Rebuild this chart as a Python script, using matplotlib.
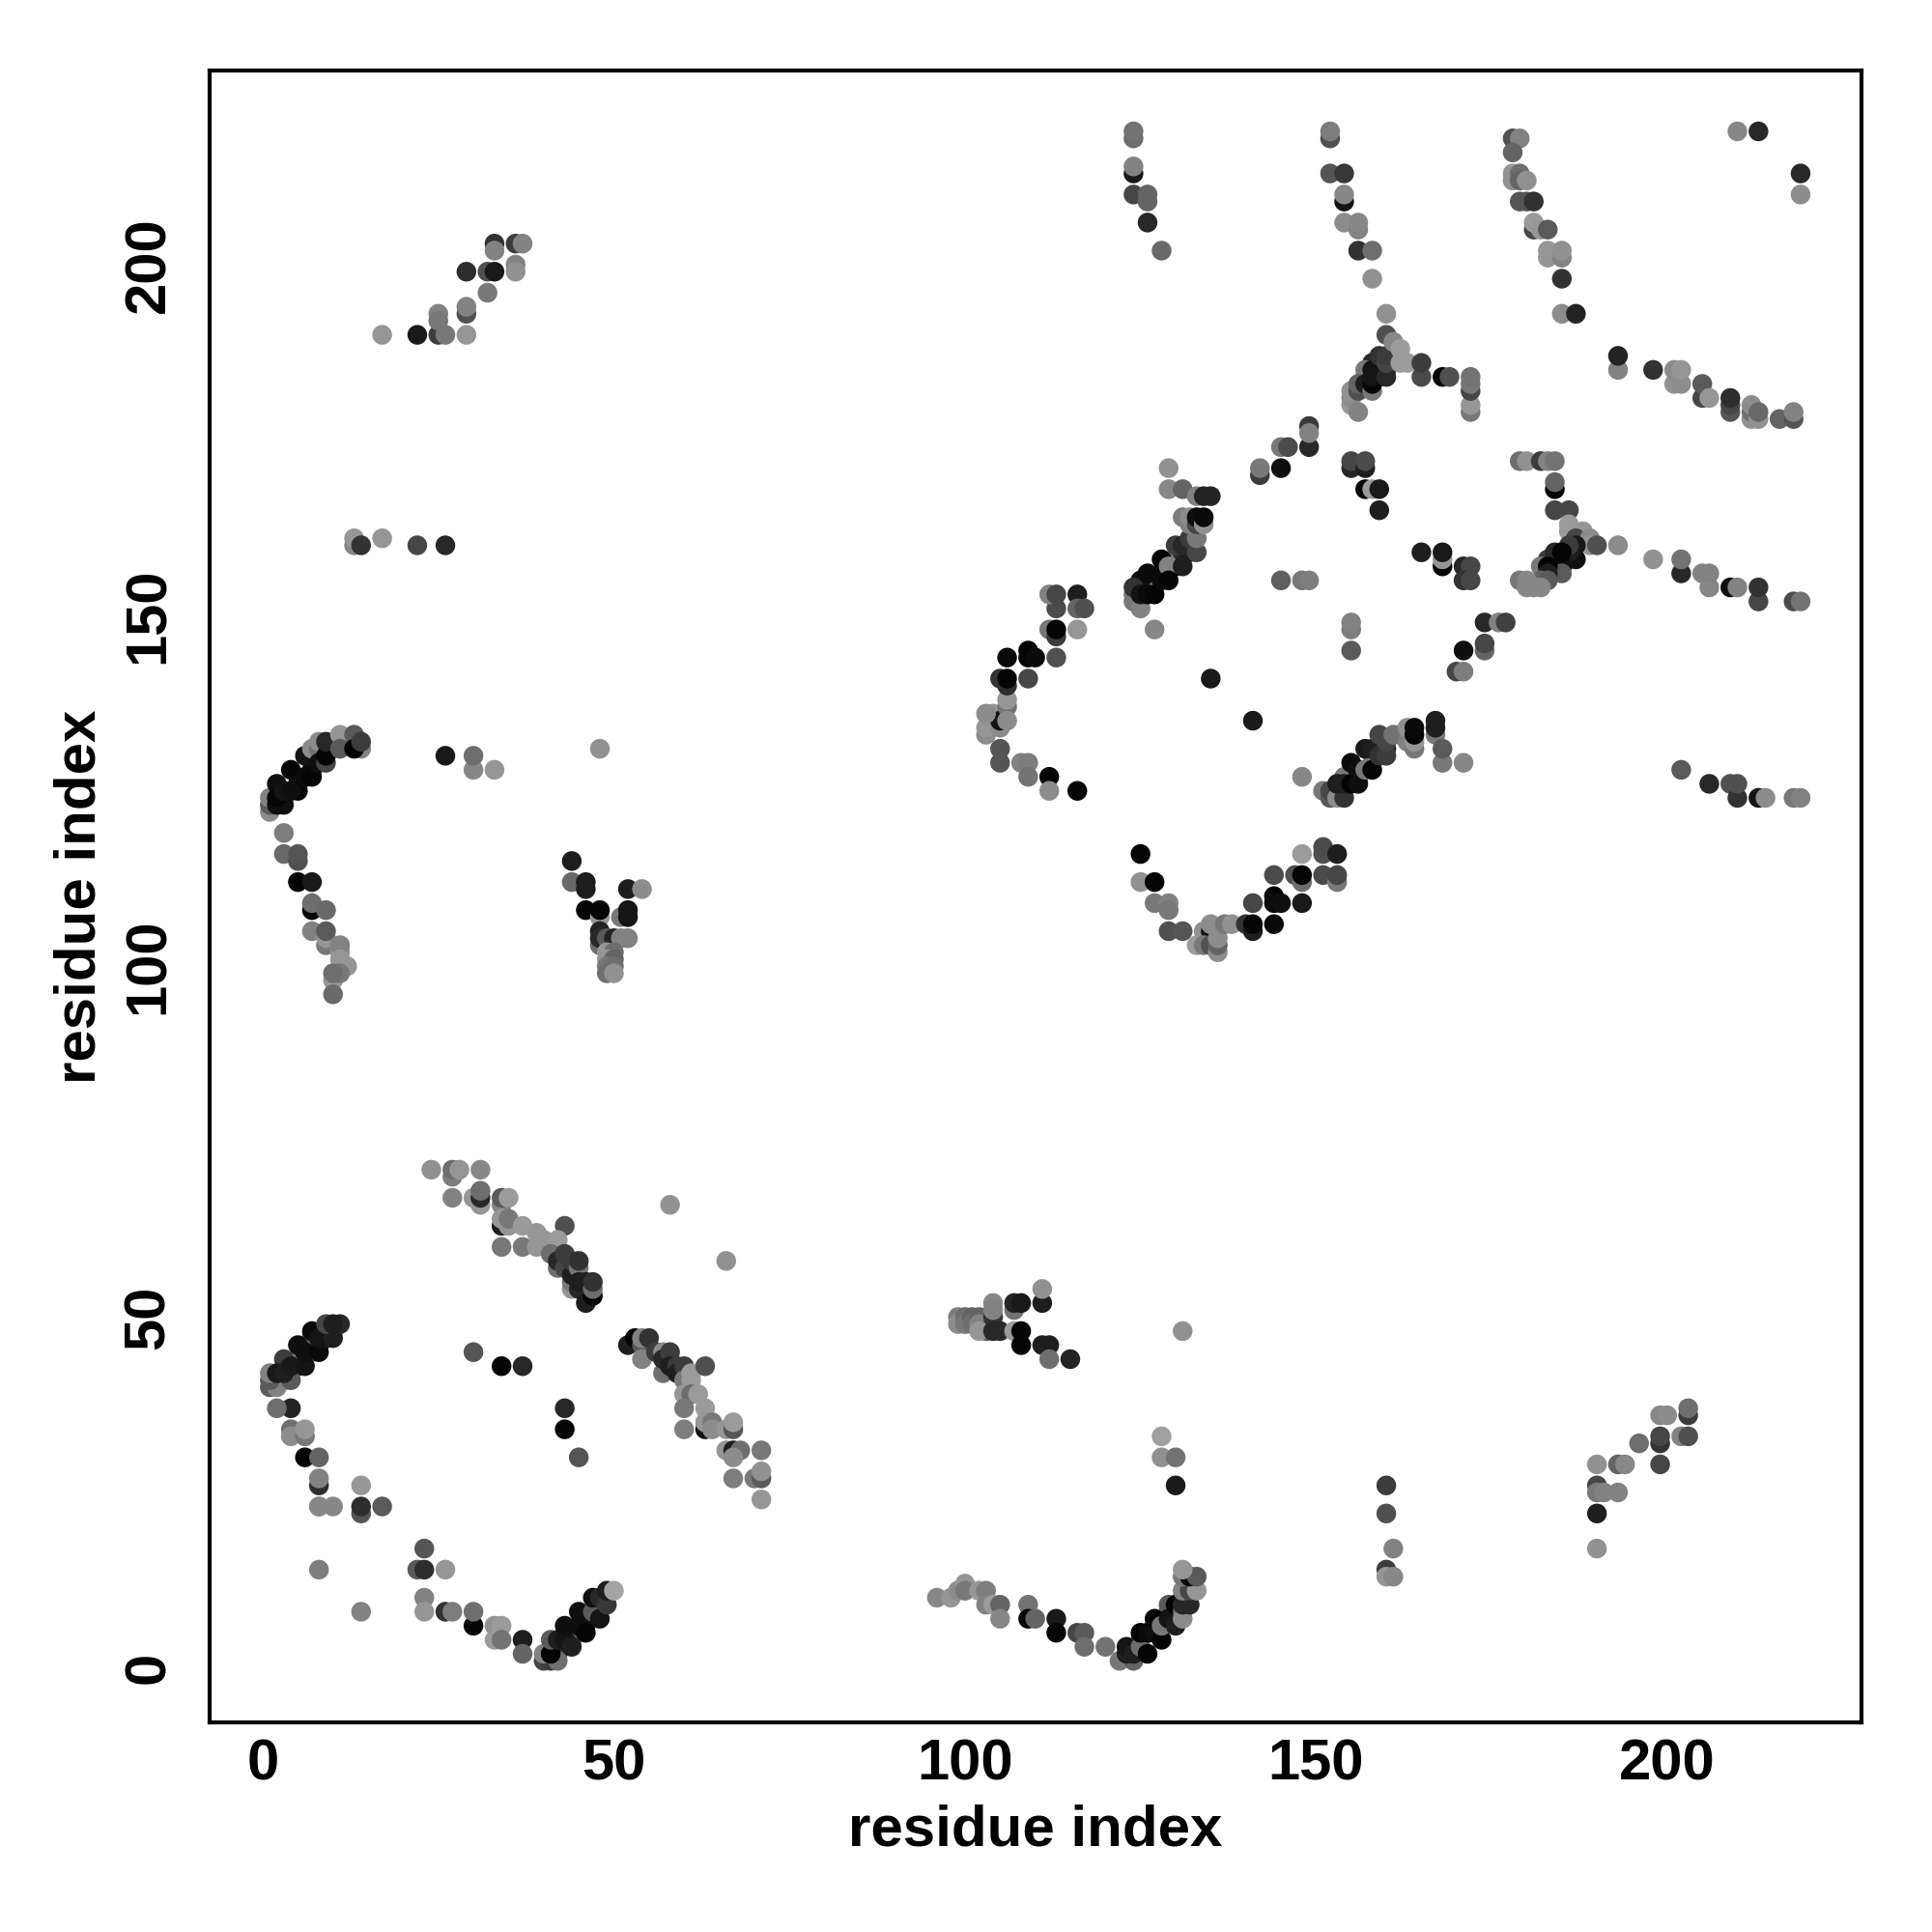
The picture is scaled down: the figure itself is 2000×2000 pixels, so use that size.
import numpy as np
import matplotlib
matplotlib.use("Agg")
import matplotlib.pyplot as plt

plt.rcParams["font.family"] = ["Liberation Sans", "DejaVu Sans"]
plt.rcParams["font.weight"] = "bold"

# contact map, grouped by region: residue i, residue j, grey level (0-255)
# points inside the packed strands, hidden under the darker ones
fill_x = [2, 3, 5, 5, 7, 7, 8, 9, 10, 6, 42, 44, 46, 47, 44, 126, 127, 128, 130, 130, 131, 132, 132, 125, 154, 156, 158, 160, 162, 3, 5, 7, 9, 125, 127, 129, 131, 183, 184, 185, 186, 157, 158, 159, 160]
fill_y = [41, 41, 43, 44, 45, 47, 46, 48, 48, 46, 2, 4, 6, 8, 5, 154, 155, 156, 157, 158, 159, 159, 160, 155, 127, 127, 129, 131, 133, 124, 126, 128, 131, 4, 6, 8, 10, 158, 158, 157, 158, 184, 186, 184, 185]
fill_g = [30, 70, 20, 120, 120, 20, 15, 40, 30, 90, 40, 90, 20, 90, 90, 120, 120, 10, 10, 120, 40, 30, 70, 15, 120, 20, 120, 40, 70, 30, 20, 15, 20, 90, 15, 90, 20, 60, 15, 60, 20, 80, 40, 70, 40]

low_left_x = [1, 2, 1, 4, 3, 1, 2, 3, 4, 6, 5, 7, 6, 8, 9, 8, 10, 9, 11, 10, 4, 2, 4, 4, 6, 6, 6, 8, 8, 8, 8, 8, 10, 14, 14, 14, 17, 23, 22, 23, 26, 8, 14, 23, 23, 26, 27, 30, 30, 33, 34, 33, 34, 37, 37]
low_left_y = [40, 40, 41, 41, 44, 42, 42, 42, 43, 43, 46, 48, 45, 45, 47, 47, 47, 49, 49, 49, 37, 37, 34, 33, 33, 34, 30, 30, 26, 27, 23, 23, 23, 26, 22, 23, 23, 17, 14, 14, 14, 14, 8, 10, 8, 8, 8, 6, 8, 6, 6, 4, 4, 4, 2]
low_left_g = [90, 130, 90, 90, 60, 130, 25, 30, 25, 20, 15, 10, 15, 10, 25, 20, 30, 70, 40, 30, 35, 110, 110, 140, 120, 150, 5, 100, 45, 130, 145, 135, 135, 150, 85, 45, 90, 85, 90, 45, 150, 125, 130, 130, 150, 50, 125, 5, 110, 145, 155, 155, 115, 30, 100]
low_left_x += [40, 41, 42, 40, 41, 41, 42, 43, 43, 44, 45, 45, 46, 47, 48, 47, 48, 49, 49, 50]
low_left_y += [1, 1, 1, 2, 2, 4, 4, 4, 6, 3, 6, 8, 5, 8, 7, 10, 10, 9, 11, 11]
low_left_g += [70, 60, 110, 130, 5, 90, 30, 20, 15, 30, 15, 15, 5, 90, 20, 15, 40, 55, 30, 165]

mid_x = [30, 34, 37, 43, 43, 45, 58, 66, 131, 128, 128, 130, 130]
mid_y = [45, 43, 43, 37, 34, 30, 66, 58, 48, 33, 30, 30, 26]
mid_g = [85, 5, 40, 40, 5, 85, 145, 145, 145, 160, 145, 115, 25]

band_a_x = [24, 27, 27, 28, 31, 27, 30, 31, 31, 31, 34, 34, 35, 34, 34, 35, 35, 37, 39, 40, 34, 37, 39, 43, 42]
band_a_y = [71, 70, 71, 71, 71, 67, 67, 66, 67, 68, 66, 67, 67, 63, 64, 63, 64, 63, 62, 61, 60, 60, 60, 63, 61]
band_a_g = [145, 125, 110, 150, 135, 130, 150, 150, 40, 110, 130, 90, 155, 30, 150, 150, 120, 155, 150, 150, 120, 120, 150, 80, 155]
band_a_x += [41, 42, 42, 43, 43, 44, 44, 44, 44, 45, 45, 45, 45, 46, 46, 47, 47, 47]
band_a_y += [59, 57, 58, 57, 59, 54, 55, 56, 58, 57, 54, 55, 58, 52, 55, 53, 54, 55]
band_a_g += [110, 110, 40, 70, 60, 150, 120, 30, 60, 120, 40, 30, 50, 30, 30, 5, 110, 50]

band_b_x = [52, 53, 54, 54, 55, 54, 56, 57, 57, 57, 58, 58, 59, 59, 60, 60, 61, 61, 60, 61, 62, 63, 63, 60, 60, 63, 63, 64, 64, 66, 67, 67]
band_b_y = [46, 47, 46, 47, 47, 44, 45, 42, 45, 44, 45, 43, 43, 42, 43, 41, 42, 41, 39, 39, 39, 43, 37, 37, 34, 34, 35, 35, 34, 34, 34, 35]
band_b_g = [30, 5, 90, 130, 50, 130, 60, 110, 140, 40, 60, 30, 60, 30, 60, 120, 155, 155, 150, 110, 155, 80, 155, 120, 125, 20, 150, 120, 140, 150, 85, 155]
band_b_x += [66, 67, 68, 67, 71, 67, 70, 71, 71, 71]
band_b_y += [31, 31, 31, 30, 31, 27, 27, 27, 28, 24]
band_b_g += [150, 30, 110, 140, 120, 125, 120, 90, 145, 150]

low_mid_x = [99, 99, 100, 100, 101, 101, 102, 102, 103, 102, 104, 104, 104, 104, 105, 107, 107, 108, 111, 111, 107, 108, 108, 111, 112, 112, 115]
low_mid_y = [50, 49, 50, 49, 50, 49, 50, 49, 48, 48, 50, 48, 52, 51, 48, 51, 52, 52, 52, 54, 48, 48, 46, 46, 46, 44, 44]
low_mid_g = [125, 140, 110, 120, 100, 110, 100, 130, 90, 150, 50, 40, 135, 130, 40, 115, 35, 25, 30, 145, 155, 5, 5, 30, 30, 110, 35]

low_arc_x = [96, 98, 99, 100, 100, 102, 103, 103, 104, 105, 105, 109, 109, 110, 113, 113, 116, 117, 117, 120]
low_arc_y = [10, 10, 11, 12, 11, 11, 11, 9, 9, 9, 7, 9, 7, 7, 7, 5, 5, 5, 3, 3]
low_arc_g = [135, 150, 140, 150, 120, 150, 125, 130, 155, 100, 135, 115, 5, 100, 25, 5, 70, 90, 110, 115]
low_arc_x += [122, 124, 123, 123, 124, 125, 125, 126, 126, 127, 127, 128, 128, 129, 129, 130, 130, 131, 131, 131, 132, 131, 132, 133, 131, 132, 133, 131]
low_arc_y += [1, 1, 2, 3, 2, 3, 5, 2, 5, 5, 7, 4, 6, 9, 7, 6, 9, 8, 7, 9, 9, 11, 11, 11, 13, 13, 13, 14]
low_arc_g += [120, 100, 30, 20, 30, 110, 5, 5, 10, 15, 5, 5, 120, 90, 20, 30, 5, 110, 140, 40, 40, 130, 70, 150, 120, 5, 90, 150]

low_right_x = [160, 160, 160, 160, 161, 161, 190, 190, 190, 190, 190, 191, 193, 193, 194, 196, 199, 199, 199, 199, 200, 202, 203, 203, 203]
low_right_y = [26, 22, 14, 13, 17, 13, 29, 26, 25, 22, 17, 25, 25, 29, 29, 32, 29, 32, 33, 36, 36, 33, 33, 36, 37]
low_right_g = [60, 80, 60, 150, 130, 135, 145, 70, 120, 30, 145, 130, 130, 100, 135, 110, 70, 50, 70, 135, 140, 130, 80, 60, 110]

left_top_x = [1, 1, 1, 2, 3, 2, 2, 3, 5, 4, 4, 6, 6, 7, 7, 8, 8, 8, 9, 9, 9, 11, 11, 13, 14, 13, 14]
left_top_y = [122, 123, 124, 123, 123, 126, 124, 125, 125, 128, 125, 127, 130, 127, 131, 131, 129, 132, 129, 130, 132, 133, 131, 133, 131, 131, 132]
left_top_g = [140, 90, 130, 15, 15, 15, 5, 20, 5, 5, 15, 10, 20, 5, 140, 110, 15, 140, 70, 5, 40, 150, 90, 90, 130, 5, 60]
left_tail_x = [3, 3, 5, 5, 5, 7, 7, 7, 9, 7, 9, 9, 9, 11, 11, 11, 12, 10, 11, 10, 10]
left_tail_y = [119, 116, 115, 116, 112, 112, 108, 109, 108, 105, 103, 104, 105, 102, 103, 101, 100, 98, 99, 99, 96]
left_tail_g = [125, 105, 80, 85, 5, 25, 5, 110, 105, 130, 120, 150, 90, 150, 130, 150, 150, 150, 120, 110, 105]

left_mid_x = [26, 30, 30, 33, 48, 44, 44, 46, 46, 52, 54, 46, 48, 48, 51, 52, 52, 48, 48, 48, 49, 50, 51, 52, 49, 50, 49, 50, 49, 50]
left_mid_y = [130, 128, 130, 128, 131, 115, 112, 111, 112, 111, 111, 108, 107, 108, 107, 107, 108, 105, 103, 104, 104, 104, 104, 104, 102, 102, 101, 101, 100, 100]
left_mid_g = [25, 135, 110, 150, 145, 30, 105, 30, 30, 30, 140, 5, 150, 5, 120, 20, 20, 35, 110, 40, 90, 35, 130, 130, 150, 110, 150, 100, 120, 110]
left_mid_x += [49, 50]
left_mid_y += [99, 99]
left_mid_g += [110, 145]

upper_left_x = [17, 22, 25, 26, 29, 25, 25, 29, 29, 29, 32, 33, 32, 33, 33, 36, 37, 36, 36, 13, 13, 14, 17, 22, 26]
upper_left_y = [190, 190, 190, 190, 190, 193, 192, 193, 194, 199, 199, 199, 196, 203, 202, 203, 203, 200, 199, 160, 161, 160, 161, 160, 160]
upper_left_g = [150, 25, 60, 120, 150, 130, 120, 80, 130, 45, 80, 25, 120, 50, 130, 60, 130, 130, 145, 135, 150, 50, 150, 70, 40]

mid_arc_x = [125, 125, 127, 127, 129, 129, 129, 131, 134, 135, 135, 133, 134, 135, 136, 136, 136, 137, 138, 140, 141, 141]
mid_arc_y = [116, 112, 112, 109, 109, 108, 105, 105, 105, 105, 106, 103, 103, 103, 102, 103, 104, 106, 106, 106, 105, 106]
mid_arc_g = [5, 145, 5, 120, 130, 120, 80, 85, 145, 20, 140, 155, 120, 80, 140, 100, 140, 120, 145, 50, 30, 5]
mid_arc_x += [141, 144, 144, 144, 145, 144, 148, 147, 148, 148, 148, 151, 151, 153, 151, 153, 153]
mid_arc_y += [109, 113, 110, 109, 109, 106, 109, 113, 112, 113, 116, 116, 117, 116, 113, 112, 113]
mid_arc_g += [70, 75, 5, 10, 15, 10, 25, 80, 110, 5, 155, 80, 75, 30, 75, 120, 70]

strand_x = [148, 151, 152, 152, 153, 154, 153, 154, 155, 155, 156, 156, 157, 157, 158, 158, 159, 159, 160, 160, 161, 163, 163, 164, 164, 164, 164, 167, 167, 167, 168, 168, 171]
strand_y = [127, 125, 124, 125, 124, 124, 126, 126, 126, 129, 126, 128, 128, 131, 128, 131, 130, 133, 130, 132, 133, 132, 134, 131, 132, 133, 134, 133, 134, 135, 129, 131, 129]
strand_g = [135, 120, 90, 70, 140, 50, 30, 30, 5, 10, 15, 15, 120, 25, 5, 30, 50, 70, 60, 70, 115, 130, 145, 120, 150, 5, 10, 120, 30, 30, 120, 90, 135]

hook_x = [103, 103, 104, 105, 105, 106, 106, 103, 106, 106, 105, 105, 108, 109, 109, 112, 112, 116]
hook_y = [133, 134, 136, 134, 135, 137, 138, 136, 135, 140, 131, 129, 129, 129, 127, 127, 125, 125]
hook_g = [140, 150, 150, 140, 20, 115, 150, 140, 140, 45, 85, 85, 130, 125, 115, 5, 140, 5]
hook_x += [105, 106, 106, 109, 109, 109, 110, 113, 112, 113, 113, 113, 116, 112, 113, 116, 116, 117, 127]
hook_y += [141, 141, 144, 141, 145, 144, 144, 144, 148, 147, 148, 151, 148, 153, 153, 153, 151, 151, 148]
hook_g += [50, 5, 10, 70, 5, 5, 10, 80, 120, 60, 5, 75, 150, 130, 70, 30, 100, 80, 135]

helix_x = [124, 124, 124, 125, 125, 126, 126, 127, 128, 128, 129, 129, 130, 131, 131, 132, 133, 133, 129, 129, 131, 133, 134, 135, 131, 132, 132, 133, 133, 134, 134]
helix_y = [152, 153, 154, 151, 153, 153, 156, 153, 155, 158, 157, 155, 160, 157, 160, 161, 159, 161, 171, 168, 168, 167, 167, 167, 164, 163, 164, 163, 164, 163, 164]
helix_g = [120, 120, 50, 130, 20, 10, 10, 5, 10, 5, 130, 5, 60, 30, 40, 60, 70, 120, 145, 135, 100, 130, 35, 35, 125, 130, 140, 70, 15, 145, 10]

center_x = [135, 141, 145, 148, 149, 142, 142, 145, 145, 146, 149, 149, 149, 155, 155, 157, 157, 157, 158, 159, 159, 165, 168, 168, 168, 171, 172, 171, 172, 155, 155, 155, 174, 176, 177, 171, 174, 174, 170, 171]
center_y = [141, 135, 155, 155, 155, 170, 171, 171, 174, 174, 174, 177, 176, 171, 172, 171, 172, 168, 168, 168, 165, 159, 157, 158, 159, 157, 157, 155, 155, 145, 148, 149, 149, 149, 149, 145, 145, 146, 142, 142]
center_g = [25, 25, 95, 120, 125, 60, 120, 15, 120, 75, 40, 60, 130, 40, 70, 30, 75, 5, 155, 25, 30, 30, 5, 150, 25, 40, 70, 50, 70, 90, 125, 130, 40, 130, 65, 15, 100, 70, 70, 125]

cross_x = [179, 180, 182, 183, 184, 184, 184, 184, 186, 186, 186, 188, 187, 189, 189, 190, 193, 187, 187, 186, 186, 184, 185, 185, 185, 182, 183, 183, 182, 183, 179, 180, 180, 181, 182]
cross_y = [172, 172, 172, 172, 172, 168, 169, 165, 165, 163, 162, 162, 161, 161, 160, 160, 160, 158, 160, 159, 160, 159, 157, 156, 159, 157, 157, 156, 155, 155, 155, 155, 154, 154, 154]
cross_g = [110, 145, 60, 130, 115, 5, 100, 70, 70, 155, 155, 150, 70, 140, 150, 80, 140, 15, 25, 30, 60, 40, 15, 90, 5, 120, 5, 30, 100, 90, 120, 135, 135, 135, 135]

tail_x = [198, 202, 202, 205, 206, 206, 209, 210, 213, 213, 218, 219, 202, 206, 209, 210, 210, 213, 214, 218, 219]
tail_y = [158, 156, 158, 156, 154, 156, 154, 154, 152, 154, 152, 152, 128, 126, 126, 124, 126, 124, 124, 124, 124]
tail_g = [145, 40, 115, 130, 135, 130, 15, 130, 70, 50, 75, 115, 90, 40, 80, 50, 80, 20, 140, 120, 130]

top_x = [124, 124, 124, 124, 124, 126, 126, 126, 128, 152, 152, 152, 154, 154, 154, 154, 156, 156, 156, 158, 158, 160]
top_y = [218, 219, 213, 214, 210, 209, 210, 206, 202, 218, 219, 213, 213, 209, 210, 206, 205, 206, 202, 202, 198, 193]
top_g = [110, 115, 25, 130, 70, 100, 100, 40, 105, 80, 125, 85, 55, 20, 135, 140, 130, 135, 50, 110, 145, 145]

knot_x = [155, 155, 155, 156, 156, 157, 156, 157, 158, 158, 158, 158, 159, 159, 160, 160, 160, 160, 161, 162, 162, 163, 165, 165, 168, 169, 172, 172, 172, 172, 172]
knot_y = [180, 181, 182, 179, 182, 185, 183, 183, 182, 183, 184, 185, 185, 187, 184, 186, 187, 190, 189, 186, 188, 186, 184, 186, 184, 184, 179, 180, 182, 183, 184]
knot_g = [150, 140, 145, 130, 80, 120, 100, 30, 120, 5, 20, 20, 20, 50, 40, 70, 60, 80, 135, 155, 155, 155, 75, 60, 5, 80, 120, 150, 70, 120, 115]

top_right_x = [178, 179, 178, 178, 178, 179, 179, 180, 179, 180, 181, 181, 181, 182, 183, 183, 183, 185, 185, 185, 185, 187]
top_right_y = [218, 218, 216, 213, 212, 213, 212, 212, 209, 209, 209, 205, 206, 205, 205, 202, 201, 201, 202, 198, 193, 193]
top_right_g = [80, 130, 100, 150, 145, 110, 100, 145, 85, 85, 50, 70, 155, 150, 90, 150, 150, 130, 145, 50, 140, 35]
far_x = [193, 193, 198, 201, 202, 201, 202, 205, 205, 206, 209, 209, 209, 212, 212, 212, 213, 213, 216, 218, 218, 210, 213, 219, 219]
far_y = [185, 187, 185, 183, 183, 185, 185, 181, 183, 181, 179, 180, 181, 178, 179, 180, 178, 179, 178, 178, 179, 219, 219, 210, 213]
far_g = [130, 35, 50, 145, 140, 140, 150, 70, 90, 150, 85, 70, 45, 145, 110, 140, 145, 105, 100, 85, 130, 135, 40, 140, 40]

regions = [
    (fill_x, fill_y, fill_g),
    (low_left_x, low_left_y, low_left_g), (mid_x, mid_y, mid_g),
    (band_a_x, band_a_y, band_a_g), (band_b_x, band_b_y, band_b_g),
    (low_mid_x, low_mid_y, low_mid_g), (low_arc_x, low_arc_y, low_arc_g),
    (low_right_x, low_right_y, low_right_g), (left_top_x, left_top_y, left_top_g),
    (left_tail_x, left_tail_y, left_tail_g), (left_mid_x, left_mid_y, left_mid_g),
    (upper_left_x, upper_left_y, upper_left_g), (mid_arc_x, mid_arc_y, mid_arc_g),
    (strand_x, strand_y, strand_g), (hook_x, hook_y, hook_g),
    (helix_x, helix_y, helix_g), (center_x, center_y, center_g),
    (cross_x, cross_y, cross_g), (tail_x, tail_y, tail_g),
    (top_x, top_y, top_g), (knot_x, knot_y, knot_g),
    (top_right_x, top_right_y, top_right_g), (far_x, far_y, far_g),
]

fig = plt.figure(figsize=(10, 10), dpi=200)
ax = fig.add_axes([0.1084, 0.1084, 0.8552, 0.8552])

for xs, ys, gs in regions:
    colors = [str(g / 255) for g in gs]
    ax.scatter(np.array(xs), np.array(ys), s=54, c=colors, linewidths=0, zorder=3)

ax.set_xlim(-7.6, 227.7)
ax.set_ylim(-7.8, 227.7)
ax.set_xticks([0, 50, 100, 150, 200])
ax.set_yticks([0, 50, 100, 150, 200])
ax.tick_params(length=0, labelsize=21.5)
ax.tick_params(axis="x", pad=6)
ax.tick_params(axis="y", pad=12.5)
for lab in ax.get_yticklabels():
    lab.set_rotation(90)
    lab.set_va("center")
for side in ax.spines.values():
    side.set_linewidth(1.5)
ax.set_xlabel("residue index", fontsize=21.6, fontweight="bold", labelpad=4.5)
ax.set_ylabel("residue index", fontsize=21.6, fontweight="bold", labelpad=6)

fig.savefig("out.png", dpi=200)
